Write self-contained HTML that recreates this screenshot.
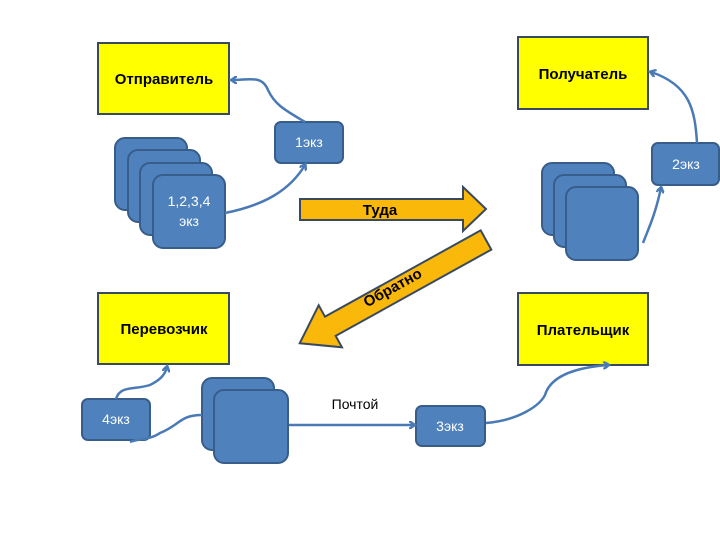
<!DOCTYPE html>
<html><head><meta charset="utf-8"><style>
html,body{margin:0;padding:0;background:#fff;}
svg{display:block;}
text{font-family:"Liberation Sans","DejaVu Sans",sans-serif;}
</style></head><body>
<svg width="720" height="540" viewBox="0 0 720 540" xmlns="http://www.w3.org/2000/svg">
<defs>
<marker id="ah" markerWidth="8" markerHeight="8" refX="5" refY="4" orient="auto" markerUnits="userSpaceOnUse">
<path d="M0,0 L6,4 L0,8" fill="none" stroke="#4a7ab5" stroke-width="2.5"/>
</marker>
</defs>
<g stroke="#3a4a5e" stroke-width="2" fill="#ffff00">
<rect x="98" y="43" width="131" height="71"/>
<rect x="518" y="37" width="130" height="72"/>
<rect x="98" y="293" width="131" height="71"/>
<rect x="518" y="293" width="130" height="72"/>
</g>
<g font-weight="bold" font-size="15" text-anchor="middle" fill="#000">
<text x="164" y="84">Отправитель</text>
<text x="583" y="79">Получатель</text>
<text x="164" y="334">Перевозчик</text>
<text x="583" y="335">Плательщик</text>
</g>
<g fill="#4f81bd" stroke="#385d8a" stroke-width="2">
<rect x="115" y="138" width="72" height="72" rx="10"/>
<rect x="128" y="150" width="72" height="72" rx="10"/>
<rect x="140" y="163" width="72" height="72" rx="10"/>
<rect x="153" y="175" width="72" height="73" rx="10"/>
<rect x="542" y="163" width="72" height="72" rx="10"/>
<rect x="554" y="175" width="72" height="72" rx="10"/>
<rect x="566" y="187" width="72" height="73" rx="10"/>
<rect x="202" y="378" width="72" height="72" rx="10"/>
<rect x="214" y="390" width="74" height="73" rx="10"/>
<rect x="275" y="122" width="68" height="41" rx="6"/>
<rect x="652" y="143" width="67" height="42" rx="6"/>
<rect x="82" y="399" width="68" height="41" rx="6"/>
<rect x="416" y="406" width="69" height="40" rx="6"/>
</g>
<g fill="#fff" font-size="14" text-anchor="middle">
<text x="189" y="206">1,2,3,4</text>
<text x="189" y="226">экз</text>
<text x="309" y="147">1экз</text>
<text x="686" y="169">2экз</text>
<text x="116" y="424">4экз</text>
<text x="450" y="431">3экз</text>
</g>
<text x="355" y="409" font-size="14" text-anchor="middle" fill="#000">Почтой</text>
<!-- Туда arrow -->
<polygon points="300,199 463,199 463,187 486,209 463,231 463,220 300,220" fill="#f9b80a" stroke="#3a4a5e" stroke-width="2"/>
<text x="380" y="215" font-weight="bold" font-size="15" text-anchor="middle" fill="#000">Туда</text>
<!-- Обратно arrow -->
<g transform="translate(486,240) rotate(151)">
<polygon points="0,-11 178,-11 178,-24 213,0 178,24 178,11 0,11" fill="#f9b80a" stroke="#3a4a5e" stroke-width="2"/>
</g>
<text transform="translate(395,292) rotate(-29)" font-weight="bold" font-size="15" text-anchor="middle" fill="#000">Обратно</text>
<!-- connectors -->
<g fill="none" stroke="#4a7ab5" stroke-width="2.5" marker-end="url(#ah)">
<path d="M225,213 C265,205 290,190 305,165"/>
<path d="M305,122 C285,110 275,105 268,90 C262,75 250,80 232,80"/>
<path d="M643,243 C650,225 655,215 661,188"/>
<path d="M697,143 C695,110 690,85 651,72"/>
<path d="M486,423 C520,420 540,405 545,395 C550,378 570,368 608,365"/>
<path d="M289,425 L414,425"/>
<path d="M202,415 C180,415 180,425 160,433 C150,440 140,438 130,442" marker-end="none"/>
<path d="M116,399 C120,385 135,390 150,385 C160,380 165,375 167,367"/>
</g>
</svg>
</body></html>
